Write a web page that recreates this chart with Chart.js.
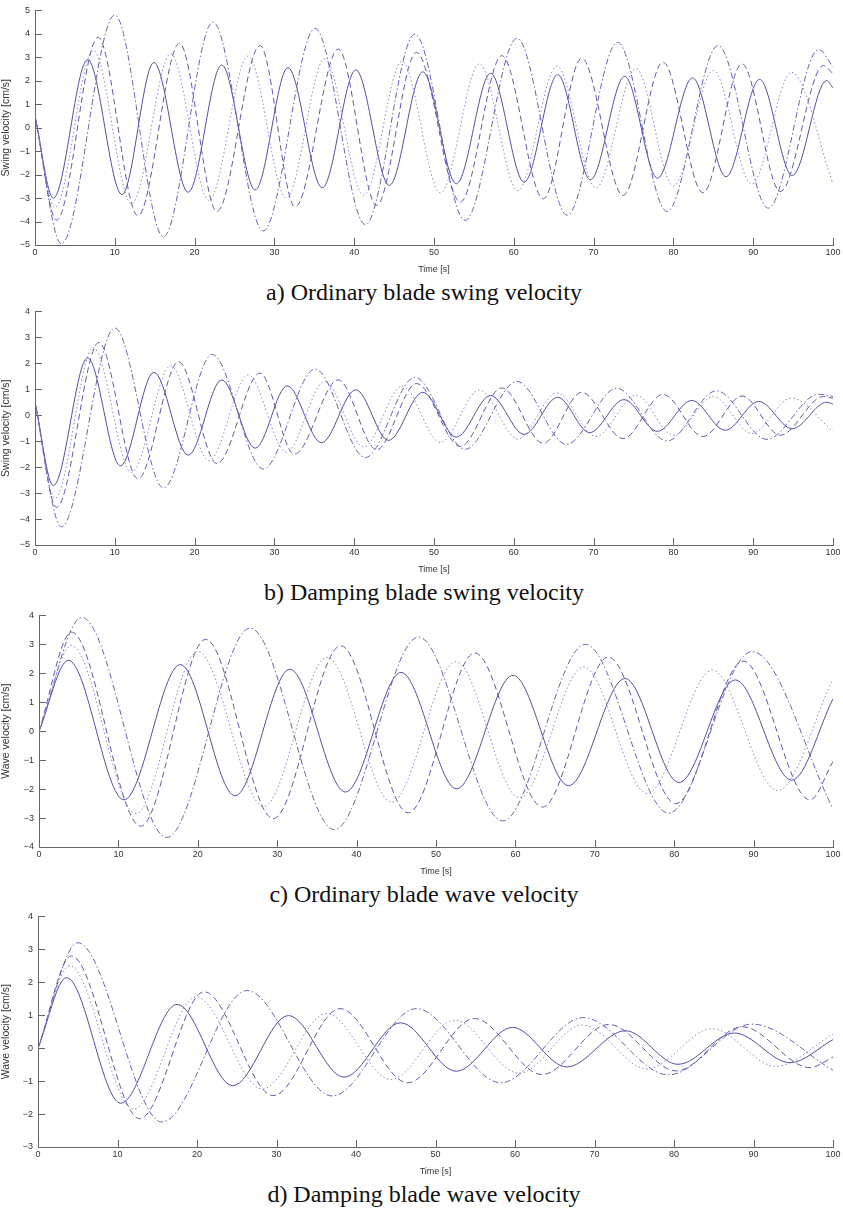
<!DOCTYPE html>
<html>
<head>
<meta charset="utf-8">
<script src="https://cdn.jsdelivr.net/npm/chart.js@4.4.1/dist/chart.umd.min.js"></script>
<style>
body { margin: 0; background: #fff; width: 843px; height: 1209px; position: relative; overflow: hidden; }
canvas { position: absolute; left: 0; }
.cap { position: absolute; left: 0; width: 848px; height: 28px; line-height: 28px; text-align: center;
       font-family: "Liberation Serif", "Times New Roman", serif; font-size: 24px; color: #111; }
</style>
</head>
<body>
<canvas id="chartA" width="843" height="275" style="top:0px"></canvas>
<div class="cap" style="top:278px">a) Ordinary blade swing velocity</div>
<canvas id="chartB" width="843" height="274" style="top:301px"></canvas>
<div class="cap" style="top:578px">b) Damping blade swing velocity</div>
<canvas id="chartC" width="843" height="272" style="top:605px"></canvas>
<div class="cap" style="top:880px">c) Ordinary blade wave velocity</div>
<canvas id="chartD" width="843" height="271" style="top:906px"></canvas>
<div class="cap" style="top:1180px">d) Damping blade wave velocity</div>
<script>
// extrema: [time s, velocity cm/s]
// a) ordinary blade swing
const aSolid = [[0,0.5],[2.3,-3.0],[6.6,2.9],[10.9,-2.85],[14.9,2.78],[19.2,-2.75],[23.4,2.67],[27.6,-2.65],[31.7,2.56],[36.0,-2.56],[40.2,2.46],[44.4,-2.46],[48.6,2.38],[52.8,-2.39],[57.1,2.32],[61.3,-2.32],[65.5,2.26],[69.6,-2.22],[73.9,2.19],[78.0,-2.15],[82.4,2.12],[86.6,-2.09],[90.8,2.06],[94.9,-2.04],[99.2,2.01],[100,1.7]];
const aDotted = [[0,0.5],[2.5,-3.4],[7.3,3.3],[12.1,-3.25],[17.0,3.15],[21.8,-3.1],[26.7,3.05],[31.5,-3.0],[36.3,2.93],[41.2,-2.88],[46.0,2.83],[50.8,-2.78],[55.7,2.72],[60.5,-2.68],[65.4,2.62],[70.3,-2.57],[75.3,2.52],[80.0,-2.48],[85.0,2.44],[89.8,-2.4],[94.8,2.36],[100,-2.38]];
const aDashed = [[0,0.5],[2.7,-3.94],[7.9,3.85],[12.9,-3.75],[18.1,3.6],[22.8,-3.57],[28.2,3.5],[32.6,-3.38],[38.0,3.35],[42.8,-3.31],[47.8,3.21],[53.3,-3.17],[58.5,3.07],[63.7,-3.03],[68.5,2.96],[73.7,-2.89],[78.7,2.79],[83.7,-2.77],[88.6,2.72],[93.4,-2.72],[98.8,2.65],[100,2.3]];
const aDashDot = [[0,0.5],[3.3,-4.95],[10.0,4.8],[16.1,-4.65],[22.3,4.5],[28.6,-4.4],[35.1,4.23],[41.4,-4.13],[47.6,3.99],[53.9,-3.95],[60.4,3.81],[66.7,-3.73],[73.0,3.64],[79.2,-3.57],[85.6,3.5],[91.9,-3.43],[98.2,3.33],[100,2.6]];

// b) damping blade swing
const bSolid = [[0,0.5],[2.3,-2.71],[6.6,2.21],[10.7,-1.95],[14.9,1.65],[19.2,-1.54],[23.4,1.36],[27.6,-1.27],[31.6,1.13],[35.9,-1.06],[40.2,0.98],[44.3,-0.97],[48.6,0.88],[52.8,-0.84],[57.1,0.76],[61.3,-0.74],[65.5,0.69],[69.5,-0.67],[73.8,0.6],[78.0,-0.62],[82.3,0.57],[86.5,-0.58],[90.7,0.53],[94.9,-0.52],[99.2,0.5],[100,0.43]];
const bDotted = [[0,0.5],[2.5,-3.2],[7.3,2.6],[12.1,-2.2],[17.0,1.9],[21.8,-1.75],[26.7,1.55],[31.5,-1.42],[36.3,1.3],[41.2,-1.22],[46.0,1.12],[50.8,-1.05],[55.7,0.97],[60.5,-0.92],[65.4,0.86],[70.3,-0.82],[75.3,0.78],[80.0,-0.76],[85.0,0.72],[89.8,-0.7],[94.8,0.66],[100,-0.62]];
const bDashed = [[0,0.5],[2.7,-3.55],[8.0,2.8],[12.9,-2.45],[18.0,2.06],[22.8,-1.86],[28.2,1.62],[32.5,-1.5],[38.0,1.36],[42.8,-1.33],[47.8,1.22],[53.3,-1.2],[58.5,1.05],[63.7,-1.08],[68.5,0.88],[73.7,-0.9],[78.7,0.8],[83.7,-0.82],[88.6,0.74],[93.4,-0.77],[98.8,0.72],[100,0.65]];
const bDashDot = [[0,0.5],[3.3,-4.3],[10.0,3.36],[16.1,-2.8],[22.2,2.34],[28.6,-2.07],[35.1,1.78],[41.4,-1.63],[47.6,1.46],[53.9,-1.31],[60.4,1.3],[66.6,-1.12],[72.9,1.04],[79.2,-0.99],[85.4,0.94],[91.7,-0.93],[98.2,0.81],[100,0.72]];

// c) ordinary blade wave
const cSolid = [[0,0],[3.7,2.45],[10.7,-2.37],[17.8,2.3],[24.7,-2.23],[31.6,2.14],[38.6,-2.1],[45.6,2.03],[52.6,-1.99],[59.7,1.93],[66.7,-1.88],[73.8,1.82],[80.6,-1.77],[87.7,1.77],[94.8,-1.69],[100,1.12]];
const cDotted = [[0,0],[4.1,2.96],[12.2,-2.85],[20.0,2.76],[28.3,-2.6],[36.3,2.55],[44.4,-2.45],[52.5,2.4],[60.5,-2.3],[68.6,2.22],[76.6,-2.15],[84.8,2.11],[93.0,-2.05],[100,1.8]];
const cDashed = [[0,0],[4.1,3.42],[12.8,-3.28],[21.0,3.17],[29.5,-3.02],[38.0,2.95],[46.5,-2.82],[54.9,2.7],[63.4,-2.62],[71.7,2.56],[80.2,-2.5],[88.7,2.42],[97.1,-2.37],[100,-1.05]];
const cDashDot = [[0,0],[5.4,3.93],[16.1,-3.67],[26.6,3.56],[37.2,-3.4],[47.8,3.25],[58.4,-3.1],[68.8,3.0],[79.3,-2.83],[89.8,2.75],[100,-2.68]];

// d) damping blade wave
const dSolid = [[0,0],[3.6,2.14],[10.4,-1.67],[17.5,1.33],[24.5,-1.14],[31.5,0.99],[38.5,-0.88],[45.6,0.77],[52.6,-0.7],[59.7,0.63],[66.5,-0.57],[73.9,0.53],[80.5,-0.49],[87.6,0.46],[94.6,-0.44],[100,0.26]];
const dDotted = [[0,0],[4.0,2.5],[12.0,-1.85],[19.9,1.56],[28.2,-1.24],[36.3,1.05],[44.4,-0.95],[52.4,0.85],[60.5,-0.76],[68.5,0.7],[76.6,-0.63],[84.8,0.59],[92.8,-0.55],[100,0.43]];
const dDashed = [[0,0],[4.2,2.8],[12.8,-2.14],[20.9,1.71],[29.6,-1.44],[38.0,1.2],[46.5,-1.05],[54.9,0.9],[63.4,-0.8],[71.8,0.72],[80.3,-0.69],[88.6,0.65],[97.1,-0.59],[100,-0.27]];
const dDashDot = [[0,0],[5.0,3.2],[15.6,-2.24],[26.3,1.75],[37.0,-1.45],[47.6,1.2],[58.2,-1.05],[68.6,0.93],[79.3,-0.81],[89.8,0.73],[100,-0.67]];

const timeRange = [0, 100];
const tickFont = { family: 'Liberation Sans, Arial, sans-serif', size: 9 };
const axisGray = '#666';

// MATLAB style tick marks pointing into the plot
const inwardTicks = {
    id: 'inwardTicks',
    afterDraw(chart) {
        const {ctx, chartArea, scales} = chart;
        ctx.save();
        ctx.strokeStyle = axisGray;
        ctx.lineWidth = 1;
        ctx.beginPath();
        scales.x.ticks.forEach(t => {
            const px = Math.round(scales.x.getPixelForValue(t.value)) + 0.5;
            ctx.moveTo(px, chartArea.bottom);
            ctx.lineTo(px, chartArea.bottom - 7);
        });
        scales.y.ticks.forEach(t => {
            const py = Math.round(scales.y.getPixelForValue(t.value)) + 0.5;
            ctx.moveTo(chartArea.left, py);
            ctx.lineTo(chartArea.left + 7, py);
        });
        ctx.stroke();
        ctx.restore();
    }
};

function toXY(pts) {
    return pts.map(p => ({x: p[0], y: p[1]}));
}

function makePanel(id, yMin, yMax, yTitle, axisW, solid, dotted, dashed, dashDot) {
    const ctx = document.getElementById(id).getContext('2d');
    new Chart(ctx, {
        type: 'line',
        data: {
            datasets: [
                {data: toXY(dotted), borderColor: 'rgb(135,135,205)', borderDash: [1.5, 2.5]},
                {data: toXY(dashed), borderColor: 'rgb(90,90,175)', borderDash: [6, 3.5]},
                {data: toXY(dashDot), borderColor: 'rgb(100,100,185)', borderDash: [6, 2.5, 1.5, 2.5]},
                {data: toXY(solid), borderColor: 'rgb(80,80,165)'}
            ]
        },
        options: {
            responsive: false,
            animation: false,
            devicePixelRatio: 1,
            layout: {padding: {top: 8, right: 10, left: 0, bottom: 0}},
            plugins: {legend: {display: false}, tooltip: {enabled: false}},
            elements: {
                point: {radius: 0},
                line: {borderWidth: 1, cubicInterpolationMode: 'monotone', fill: false}
            },
            scales: {
                x: {
                    type: 'linear', min: timeRange[0], max: timeRange[1],
                    ticks: {stepSize: 10, font: tickFont, color: '#333', padding: 2, maxRotation: 0},
                    grid: {display: false, drawTicks: false},
                    border: {display: true, color: axisGray},
                    title: {display: true, text: 'Time [s]', font: tickFont, color: '#333', padding: {top: 0, bottom: 0}},
                    afterFit: s => { s.height = 30; }
                },
                y: {
                    type: 'linear', min: yMin, max: yMax,
                    ticks: {
                        stepSize: 1, font: tickFont, color: '#333', padding: 5,
                        callback: v => (v < 0 ? '\u2212' + Math.abs(v) : String(v))
                    },
                    grid: {display: false, drawTicks: false},
                    border: {display: true, color: axisGray},
                    title: {display: true, text: yTitle, font: {family: 'Liberation Sans, Arial, sans-serif', size: 10.5}, color: '#333', padding: {top: 0, bottom: 4}},
                    afterFit: s => { s.width = axisW; }
                }
            }
        },
        plugins: [inwardTicks]
    });
}

makePanel('chartA', -5, 5, 'Swing velocity [cm/s]', 35, aSolid, aDotted, aDashed, aDashDot);
makePanel('chartB', -5, 4, 'Swing velocity [cm/s]', 35, bSolid, bDotted, bDashed, bDashDot);
makePanel('chartC', -4, 4, 'Wave velocity [cm/s]', 39, cSolid, cDotted, cDashed, cDashDot);
makePanel('chartD', -3, 4, 'Wave velocity [cm/s]', 38, dSolid, dDotted, dDashed, dDashDot);
</script>
</body>
</html>
